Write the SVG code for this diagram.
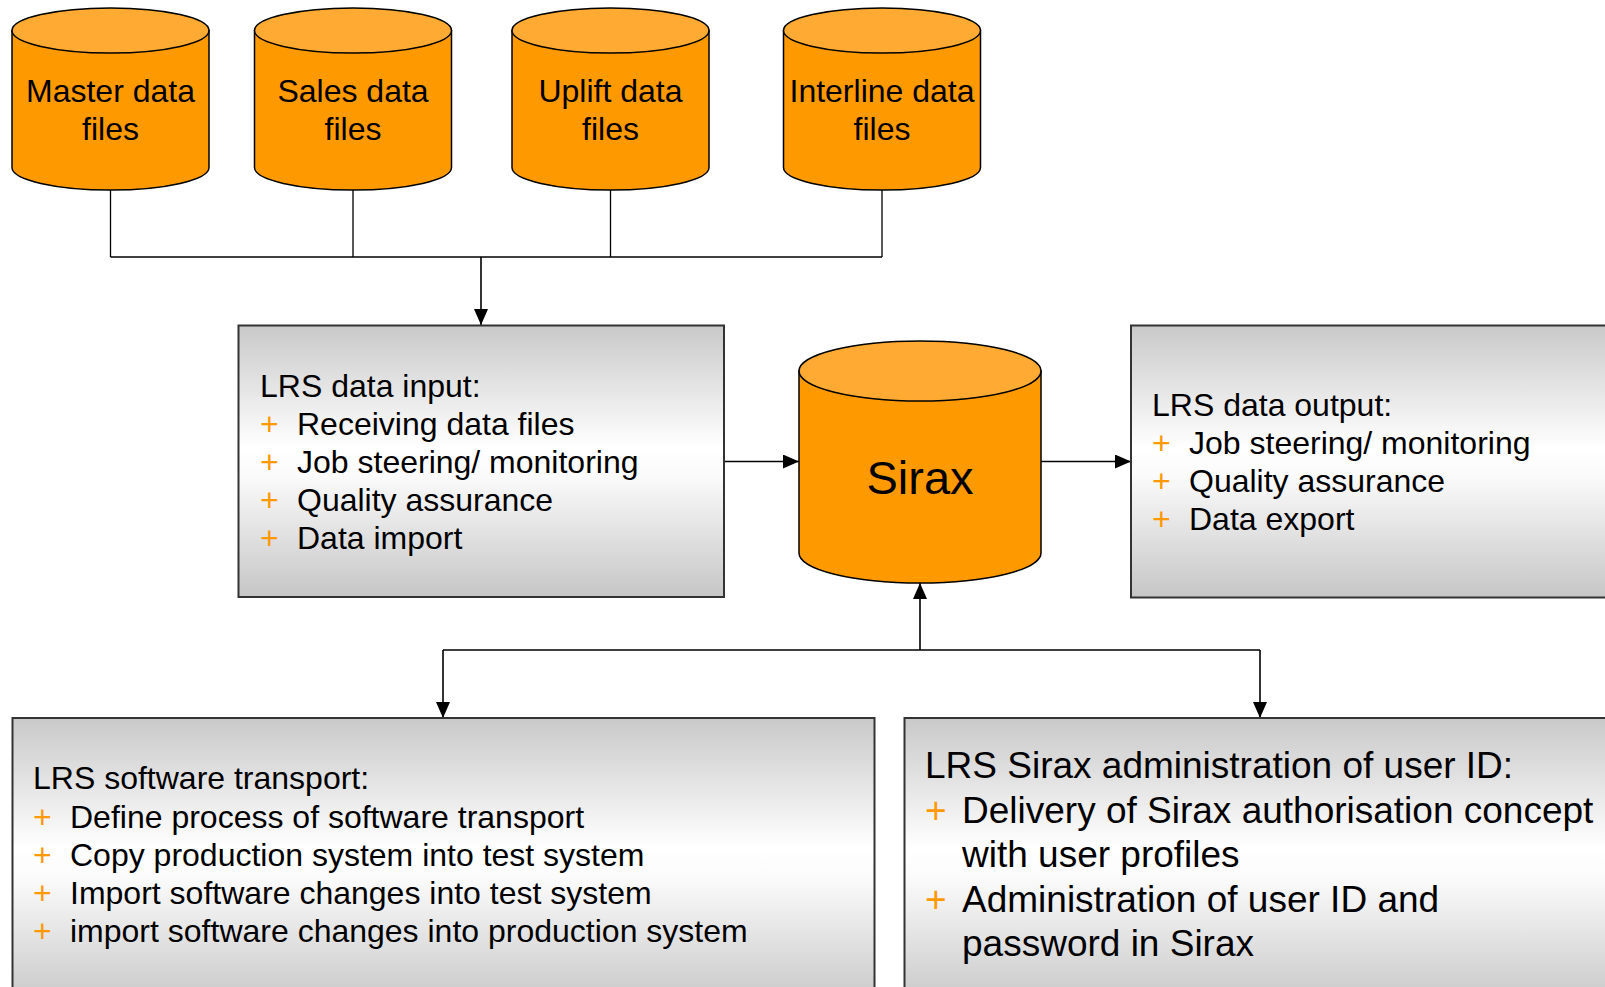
<svg xmlns="http://www.w3.org/2000/svg" width="1605" height="987" viewBox="0 0 1605 987">
<defs>
<linearGradient id="gbox" x1="0" y1="0" x2="0" y2="1">
<stop offset="0" stop-color="#c9c9c9"/>
<stop offset="0.45" stop-color="#ffffff"/>
<stop offset="0.55" stop-color="#fbfbfb"/>
<stop offset="1" stop-color="#c6c6c6"/>
</linearGradient>
<marker id="arr" viewBox="0 0 16 14" refX="16" refY="7" markerWidth="16" markerHeight="14" markerUnits="userSpaceOnUse" orient="auto">
<path d="M0,0 L16,7 L0,14 Z" fill="#000"/>
</marker>
<style>
.body{fill:#ff9900;stroke:#000;stroke-width:1.5}
.top{fill:#ffab33;stroke:#000;stroke-width:1.5}
.box{fill:url(#gbox);stroke:#333;stroke-width:2}
.lbl{font-family:"Liberation Sans",Arial,sans-serif;font-size:32px;fill:#000}
.big{font-size:37px}
.sx{font-size:47px}
.plus{fill:#ff9900}
.conn{fill:none;stroke:#000;stroke-width:1.6}
.thin{stroke-width:1.3}
</style>
</defs>

<g id="connectors">
<path class="conn thin" d="M110.5,190 V257 M353,190 V257 M610.5,190 V257 M882,190 V257 M110.5,257 H882"/>
<path class="conn" d="M481,257 V325" marker-end="url(#arr)"/>
<path class="conn" d="M724,461.5 H799" marker-end="url(#arr)"/>
<path class="conn" d="M1041,461.5 H1131" marker-end="url(#arr)"/>
<path class="conn" d="M920,650 V583" marker-end="url(#arr)"/>
<path class="conn" d="M443,650 H1260"/>
<path class="conn" d="M443,650 V718" marker-end="url(#arr)"/>
<path class="conn" d="M1260,650 V718" marker-end="url(#arr)"/>
</g>

<g id="master">
<path class="body" d="M12,30.5 V167.5 A98.5,22.5 0 0 0 209,167.5 V30.5 Z"/>
<ellipse class="top" cx="110.5" cy="30.5" rx="98.5" ry="22.5"/>
<text class="lbl" text-anchor="middle" x="110.5" y="102">Master data<tspan x="110.5" y="140">files</tspan></text>
</g>
<g id="sales">
<path class="body" d="M254.5,30.5 V167.5 A98.5,22.5 0 0 0 451.5,167.5 V30.5 Z"/>
<ellipse class="top" cx="353" cy="30.5" rx="98.5" ry="22.5"/>
<text class="lbl" text-anchor="middle" x="353" y="102">Sales data<tspan x="353" y="140">files</tspan></text>
</g>
<g id="uplift">
<path class="body" d="M512,30.5 V167.5 A98.5,22.5 0 0 0 709,167.5 V30.5 Z"/>
<ellipse class="top" cx="610.5" cy="30.5" rx="98.5" ry="22.5"/>
<text class="lbl" text-anchor="middle" x="610.5" y="102">Uplift data<tspan x="610.5" y="140">files</tspan></text>
</g>
<g id="interline">
<path class="body" d="M783.5,30.5 V167.5 A98.5,22.5 0 0 0 980.5,167.5 V30.5 Z"/>
<ellipse class="top" cx="882" cy="30.5" rx="98.5" ry="22.5"/>
<text class="lbl" text-anchor="middle" x="882" y="102">Interline data<tspan x="882" y="140">files</tspan></text>
</g>

<g id="input">
<rect class="box" x="238.5" y="325.5" width="485.5" height="271.5"/>
<text class="lbl" x="260" y="397">LRS data input:</text>
<text class="lbl plus" x="260" y="435">+</text><text class="lbl" x="297" y="435">Receiving data files</text>
<text class="lbl plus" x="260" y="473">+</text><text class="lbl" x="297" y="473">Job steering/ monitoring</text>
<text class="lbl plus" x="260" y="511">+</text><text class="lbl" x="297" y="511">Quality assurance</text>
<text class="lbl plus" x="260" y="549">+</text><text class="lbl" x="297" y="549">Data import</text>
</g>

<g id="sirax">
<path class="body" d="M799,371 V553 A121,30 0 0 0 1041,553 V371 Z"/>
<ellipse class="top" cx="920" cy="371" rx="121" ry="30"/>
<text class="lbl sx" text-anchor="middle" x="920" y="494">Sirax</text>
</g>

<g id="output">
<rect class="box" x="1131" y="325.5" width="500" height="272"/>
<text class="lbl" x="1152" y="416">LRS data output:</text>
<text class="lbl plus" x="1152" y="454">+</text><text class="lbl" x="1189" y="454">Job steering/ monitoring</text>
<text class="lbl plus" x="1152" y="492">+</text><text class="lbl" x="1189" y="492">Quality assurance</text>
<text class="lbl plus" x="1152" y="530">+</text><text class="lbl" x="1189" y="530">Data export</text>
</g>

<g id="transport">
<rect class="box" x="12.5" y="718" width="862" height="290"/>
<text class="lbl" x="33" y="789">LRS software transport:</text>
<text class="lbl plus" x="33" y="828">+</text><text class="lbl" x="70" y="828">Define process of software transport</text>
<text class="lbl plus" x="33" y="866">+</text><text class="lbl" x="70" y="866">Copy production system into test system</text>
<text class="lbl plus" x="33" y="904">+</text><text class="lbl" x="70" y="904">Import software changes into test system</text>
<text class="lbl plus" x="33" y="942">+</text><text class="lbl" x="70" y="942">import software changes into production system</text>
</g>

<g id="admin">
<rect class="box" x="904.5" y="718" width="720" height="290"/>
<text class="lbl big" x="925" y="778">LRS Sirax administration of user ID:</text>
<text class="lbl big plus" x="925" y="823">+</text><text class="lbl big" x="962" y="823">Delivery of Sirax authorisation concept</text>
<text class="lbl big" x="962" y="867">with user profiles</text>
<text class="lbl big plus" x="925" y="912">+</text><text class="lbl big" x="962" y="912">Administration of user ID and</text>
<text class="lbl big" x="962" y="956">password in Sirax</text>
</g>
</svg>
